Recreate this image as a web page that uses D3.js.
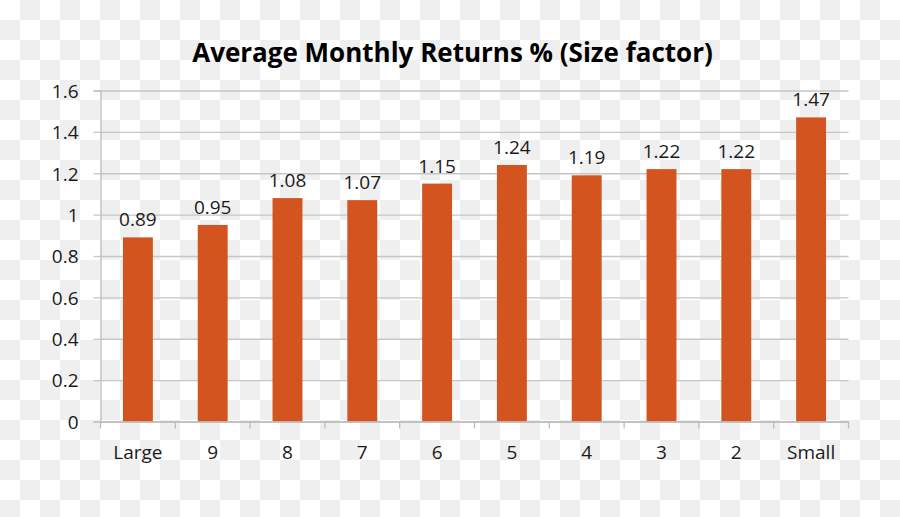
<!DOCTYPE html>
<html><head><meta charset="utf-8">
<script src="https://cdn.jsdelivr.net/npm/d3@7"></script>
<style>html,body{margin:0;padding:0;background:#fff;}svg{display:block;}</style>
</head><body>
<svg id="chart" width="900" height="517"></svg>
<script>
const categories = ["Large","9","8","7","6","5","4","3","2","Small"];
const values = [0.89,0.95,1.08,1.07,1.15,1.24,1.19,1.22,1.22,1.47];
const yTicks = [0,0.2,0.4,0.6,0.8,1,1.2,1.4,1.6];
const yTickLabels = ["0","0.2","0.4","0.6","0.8","1","1.2","1.4","1.6"];
const title = "Average Monthly Returns % (Size factor)";

(function(){
const W = 900, H = 517;
const svg = d3.select("#chart");
const font = "'Open Sans', sans-serif";
const fs = 19;
const txt = "#1a1a1a";

// checkerboard (transparent background rendering)
const defs = svg.append("defs");
const pat = defs.append("pattern").attr("id","chk").attr("width",40).attr("height",40).attr("patternUnits","userSpaceOnUse");
pat.append("rect").attr("width",40).attr("height",40).attr("fill","#ffffff");
pat.append("rect").attr("x",20).attr("y",0).attr("width",20).attr("height",20).attr("fill","#efefef");
pat.append("rect").attr("x",0).attr("y",20).attr("width",20).attr("height",20).attr("fill","#efefef");
svg.append("rect").attr("width",W).attr("height",H).attr("fill","url(#chk)");

const pL = 100.5, pR = 848.5, pT = 90.5, pB = 421.5;
const x = d3.scaleBand().domain(categories).range([pL,pR]).paddingInner(0.6).paddingOuter(0.3);
const xb = d3.scaleBand().domain(categories).range([pL,pR]);
const y = d3.scaleLinear().domain([0,1.6]).range([pB,pT]);

// gridlines
const grid = svg.append("g").attr("transform",`translate(${pL},0)`)
  .call(d3.axisLeft(y).tickValues(yTicks).tickSize(-(pR-pL)).tickFormat(""));
grid.select(".domain").remove();
grid.selectAll("line").attr("stroke","#c6c6c6").attr("stroke-width",1.3);

// y axis
const ya = svg.append("g").attr("transform",`translate(${pL},0)`)
  .call(d3.axisLeft(y).tickValues(yTicks).tickSize(7).tickPadding(15)
    .tickFormat((d,i)=>yTickLabels[i]));
ya.select(".domain").attr("stroke","#bdbdbd").attr("stroke-width",1.3);
ya.selectAll("line").attr("stroke","#c6c6c6").attr("stroke-width",1.3);
ya.selectAll("text").attr("font-family",font).attr("font-size",fs).attr("fill",txt).attr("dy","0.36em");

// bars
svg.append("g").selectAll("rect").data(values).join("rect")
  .attr("x",(d,i)=>x(categories[i]))
  .attr("y",d=>y(d))
  .attr("width",x.bandwidth())
  .attr("height",d=>y(0)-y(d))
  .attr("fill","#d4541f");

// x axis
const xa = svg.append("g").attr("transform",`translate(0,${pB})`)
  .call(d3.axisBottom(xb).tickSize(0).tickPadding(0));
xa.select(".domain").attr("stroke","#bdbdbd").attr("stroke-width",1.3);
xa.selectAll("text").attr("font-family",font).attr("font-size",fs).attr("fill",txt)
  .attr("y",37).attr("dy",null);
// boundary ticks
const bounds = categories.map(c=>xb(c)).concat([pR]);
svg.append("g").selectAll("line").data(bounds).join("line")
  .attr("x1",d=>d).attr("x2",d=>d).attr("y1",pB).attr("y2",pB+7)
  .attr("stroke","#bdbdbd").attr("stroke-width",1.3);

// value labels
svg.append("g").selectAll("text").data(values).join("text")
  .attr("x",(d,i)=>x(categories[i])+x.bandwidth()/2)
  .attr("y",d=>y(d)-11)
  .attr("text-anchor","middle")
  .attr("font-family",font).attr("font-size",fs).attr("fill",txt)
  .text(d=>d.toFixed(2));

// title
const t = svg.append("text").attr("x",452.5).attr("y",62).attr("text-anchor","middle")
  .attr("font-family",font).attr("font-weight","bold").attr("font-size",24).attr("fill","#000")
  .text(title);
const len = t.node().getComputedTextLength();
if (len > 0) t.attr("font-size", 24*521/len);
})();
</script>
</body></html>
